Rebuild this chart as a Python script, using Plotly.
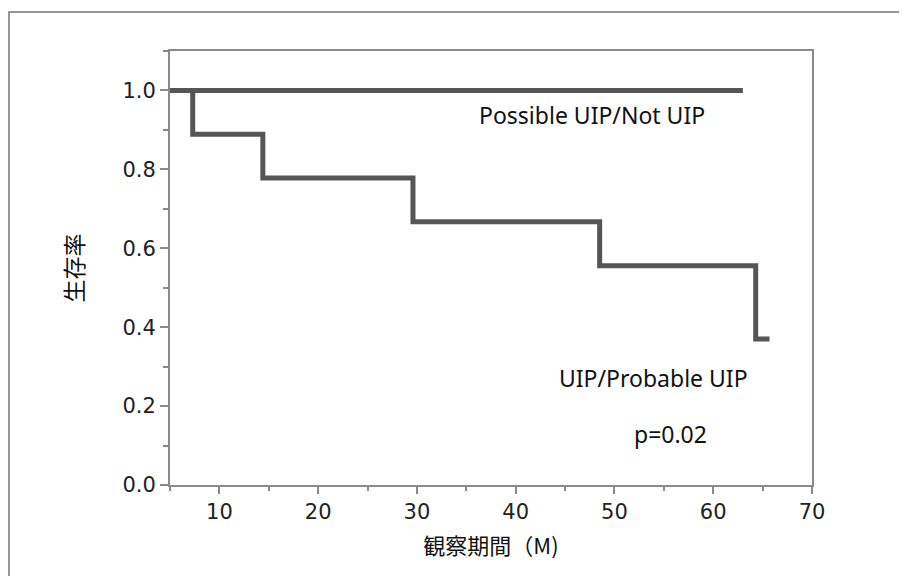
import plotly.graph_objects as go

# Data
time_uip = [5, 7.3, 14.4, 29.6, 48.5, 64.3, 65.7]
surv_uip = [1.0, 0.889, 0.778, 0.667, 0.556, 0.370, 0.370]
time_possible = [5, 63]
surv_possible = [1.0, 1.0]

label_possible = "Possible UIP/Not UIP"
label_uip = "UIP/Probable UIP"
p_text = "p=0.02"
x_title = "観察期間（M)"
y_title = "生存率"

line_color = "#555555"
axis_color = "#8a8a8a"

fig = go.Figure()
fig.add_trace(go.Scatter(x=time_possible, y=surv_possible, mode="lines",
                         line=dict(color=line_color, width=5), showlegend=False))
fig.add_trace(go.Scatter(x=time_uip, y=surv_uip, mode="lines", line_shape="hv",
                         line=dict(color=line_color, width=5), showlegend=False))

txt_font = dict(family="Noto Sans, DejaVu Sans, sans-serif", size=23, color="#111111")
fig.add_annotation(x=47.7, y=0.939, xref="x", yref="y", text=label_possible,
                   showarrow=False, font=txt_font)
fig.add_annotation(x=54.0, y=0.272, xref="x", yref="y", text=label_uip,
                   showarrow=False, font=txt_font)
fig.add_annotation(x=55.7, y=0.129, xref="x", yref="y", text=p_text,
                   showarrow=False, font=txt_font)

# outer frame around the figure
fig.add_shape(type="rect", xref="paper", yref="paper",
              x0=(9 - 170) / 642, x1=1.5, y0=-0.5, y1=1 + (51 - 12) / 434,
              line=dict(color="#777777", width=1.5), fillcolor="rgba(0,0,0,0)", layer="below")

tick_font = dict(family="DejaVu Sans, Verdana, sans-serif", size=21, color="#222222")
fig.update_xaxes(range=[5, 70], tick0=0, dtick=10, ticks="outside", ticklen=7,
                 tickwidth=1.5, tickcolor=axis_color, showline=True, linecolor=axis_color,
                 linewidth=2, mirror=True, showgrid=False, zeroline=False,
                 tickfont=tick_font,
                 minor=dict(tick0=0, dtick=5, ticks="outside", ticklen=4,
                            tickwidth=1.5, tickcolor=axis_color, showgrid=False),
                 title=dict(text=x_title, standoff=15,
                            font=dict(family="Noto Sans CJK JP", size=22, color="#111111")))
fig.update_yaxes(range=[0, 1.1], tick0=0, dtick=0.2, tickformat=".1f", ticks="outside",
                 ticklen=8, tickwidth=1.5, tickcolor=axis_color, showline=True,
                 linecolor=axis_color, linewidth=2, mirror=True, showgrid=False,
                 zeroline=False, tickfont=tick_font,
                 minor=dict(tick0=0, dtick=0.1, ticks="outside", ticklen=5,
                            tickwidth=1.5, tickcolor=axis_color, showgrid=False),
                 title=dict(text=y_title, standoff=32,
                            font=dict(family="Noto Sans CJK JP", size=23, color="#111111")))

fig.update_layout(width=907, height=576, plot_bgcolor="white", paper_bgcolor="white",
                  margin=dict(l=162, r=103, t=43, b=99))
fig.write_html("out.html")
